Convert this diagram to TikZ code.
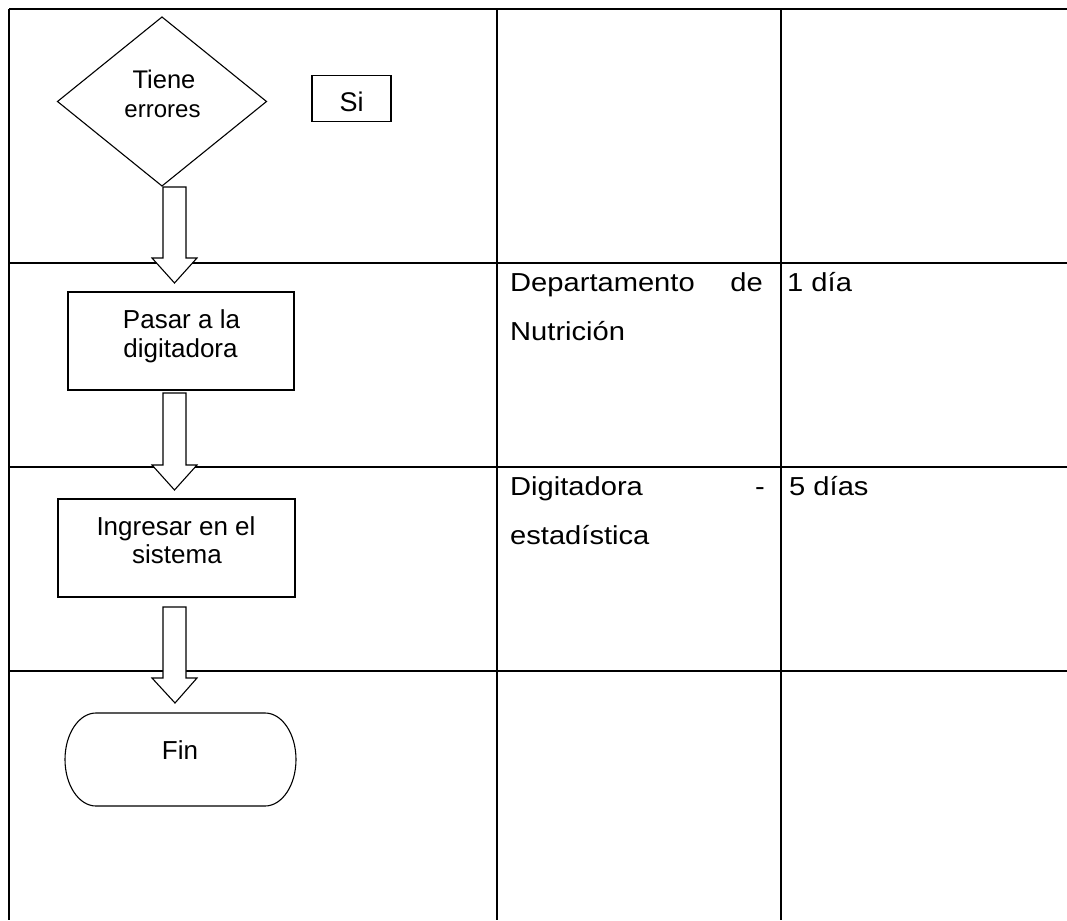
\documentclass[tikz,border=0pt]{standalone}
\usepackage{fontspec}
\usepackage{graphicx}
\setmainfont{Liberation Sans}
\usetikzlibrary{shapes.geometric,calc}
\newcommand{\tst}[1]{\scalebox{1.12}[1]{#1}}
\newcommand{\blockarrow}[2]{\draw[blk] let \p1=(#1), \p2=(#2) in
  (\x1-11.5pt,\y1) -- (\x1+11.5pt,\y1) -- (\x1+11.5pt,\y2+25pt) -- (\x1+22.5pt,\y2+25pt)
  -- (\x2,\y2) -- (\x1-22.5pt,\y2+25pt) -- (\x1-11.5pt,\y2+25pt) -- cycle;}
\begin{document}
\begin{tikzpicture}[x=1pt,y=-1pt,
  tline/.style={line width=2pt,black},
  shp/.style={draw=black,line width=1.1pt,fill=white,inner sep=0pt,outer sep=0pt},
  blk/.style={draw=black,line width=1.1pt,fill=white,line join=miter},
  ftxt/.style={inner sep=0pt,font=\fontsize{26}{29}\selectfont},
  ttxt/.style={inner sep=0pt,font=\fontsize{26}{30}\selectfont},
]
\useasboundingbox (0,0) rectangle (1067,920);
% table grid
\draw[tline] (9,9) -- (1067,9);
\draw[tline] (9,9) -- (9,920);
\draw[tline] (497,9) -- (497,920);
\draw[tline] (781,9) -- (781,920);
\draw[tline] (9,263) -- (1067,263);
\draw[tline] (9,467) -- (1067,467);
\draw[tline] (9,671) -- (1067,671);
% table texts
\node[ttxt,anchor=base west] (t1a) at (510,291) {\tst{Departamento}};
\node[ttxt,anchor=base east] (t1b) at (763,291) {\tst{de}};
\node[ttxt,anchor=base west] (t1c) at (510,340) {\tst{Nutrición}};
\node[ttxt,anchor=base west] (t1d) at (787,291) {\tst{1 día}};
\node[ttxt,anchor=base west] (t2a) at (510,495) {\tst{Digitadora}};
\node[ttxt,anchor=base east] (t2b) at (765,495) {\tst{-}};
\node[ttxt,anchor=base west] (t2c) at (510,544) {\tst{estadística}};
\node[ttxt,anchor=base west] (t2d) at (789,495) {\tst{5 días}};
% flowchart shapes
\node[shp,diamond,minimum width=209pt,minimum height=169pt] (dia) at (162,101.5) {};
\node[shp,minimum width=79pt,minimum height=46pt] (si) at (351.5,98.5) {};
\node[shp,minimum width=226pt,minimum height=98pt] (box1) at (181,341) {};
\node[shp,minimum width=237pt,minimum height=98pt] (box2) at (176.5,548) {};
\node[minimum width=231pt,minimum height=93pt,inner sep=0pt,outer sep=0pt] (fin) at (180.5,759.5) {};
\draw[shp] ($(fin.north west)+(31,0)$) -- ($(fin.north east)+(-31,0)$)
  arc[start angle=90,end angle=-90,x radius=31pt,y radius=46.5pt]
  -- ($(fin.south west)+(31,0)$)
  arc[start angle=270,end angle=90,x radius=31pt,y radius=46.5pt] -- cycle;
% texts in shapes
\node[inner sep=0pt,font=\fontsize{25.5}{29}\selectfont,anchor=base] (tx1) at (164,89) {Tiene};
\node[inner sep=0pt,font=\fontsize{24}{29}\selectfont,anchor=base] (tx2) at (162.5,118) {errores};
\node[inner sep=0pt,font=\fontsize{27}{29}\selectfont,anchor=base] (tx3) at (351.5,112) {Si};
\node[ftxt,anchor=base] (tx4) at (181.5,328) {Pasar a la};
\node[ftxt,anchor=base] (tx5) at (180.5,357) {digitadora};
\node[ftxt,anchor=base] (tx6) at (176,535) {Ingresar en el};
\node[ftxt,anchor=base] (tx7) at (177,563) {sistema};
\node[ftxt,anchor=base] (tx8) at (180,759) {Fin};
% block arrows
\coordinate (a1s) at ($(dia.south)+(12.5,1)$);
\coordinate (a1e) at ($(box1.north)+(-6.5,-9)$);
\coordinate (a2s) at ($(box1.south)+(-6.5,3)$);
\coordinate (a2e) at ($(box2.north)+(-2,-9)$);
\coordinate (a3s) at ($(box2.south)+(-2,10)$);
\coordinate (a3e) at ($(fin.north)+(-5.5,-10)$);
\blockarrow{a1s}{a1e}
\blockarrow{a2s}{a2e}
\blockarrow{a3s}{a3e}
\end{tikzpicture}
\end{document}
